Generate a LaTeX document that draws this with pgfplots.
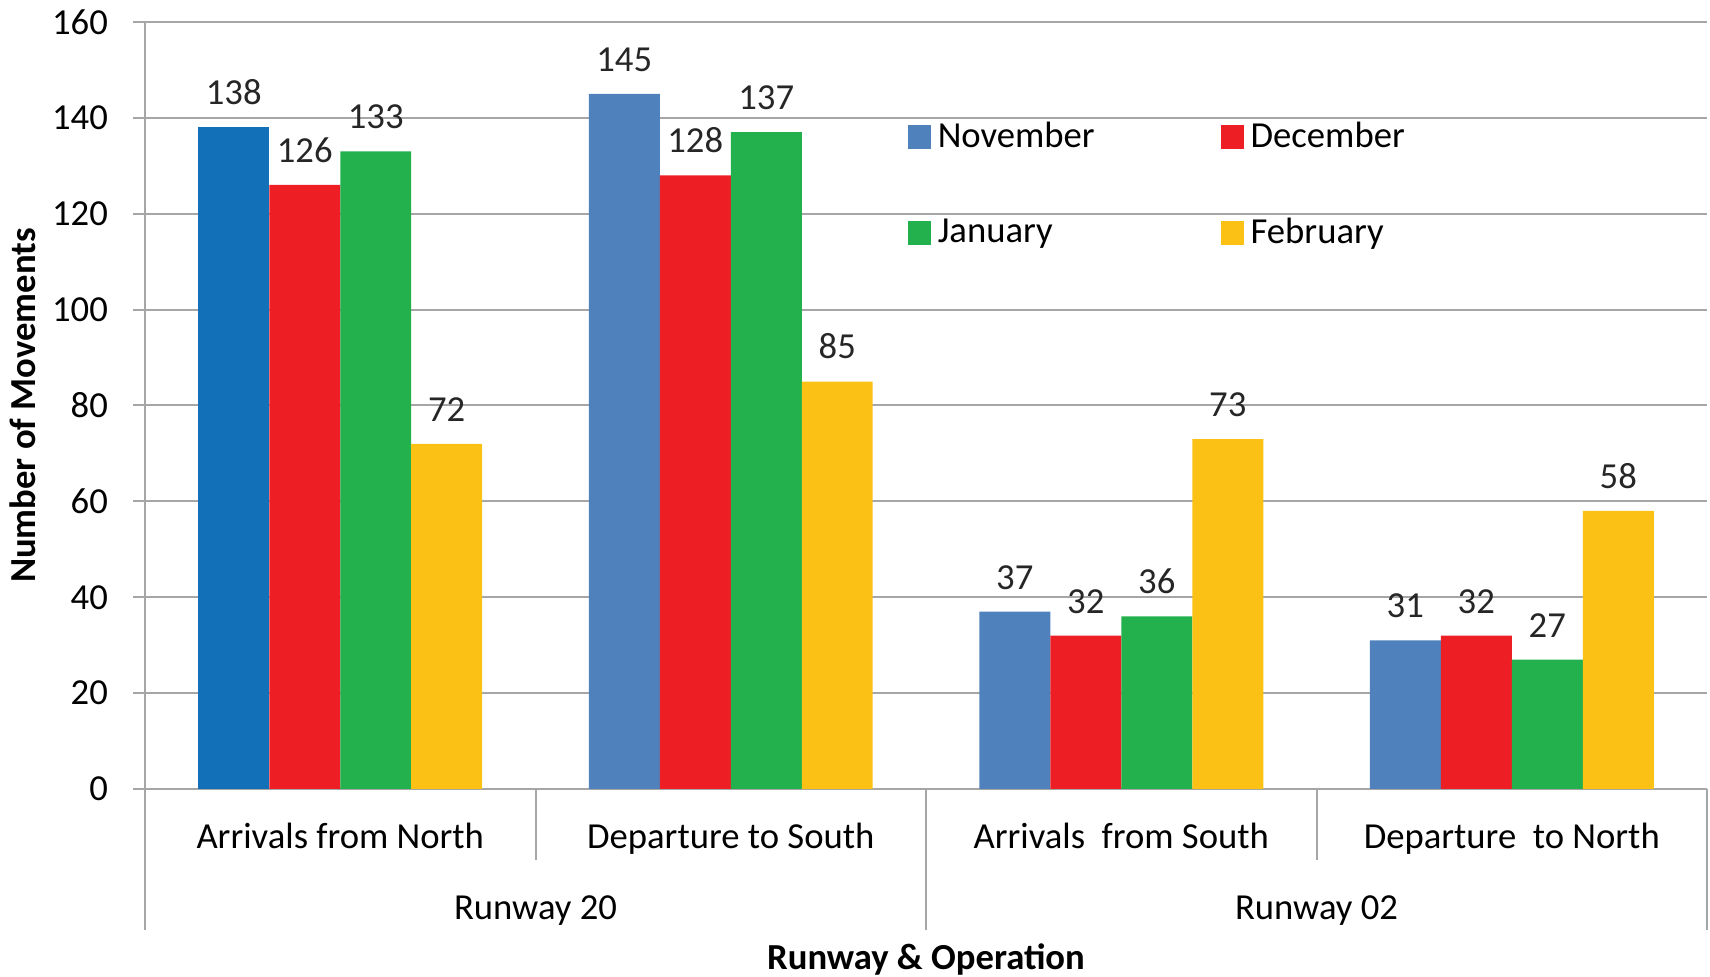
\documentclass[border=0pt]{standalone}
\usepackage{fontspec}
\setmainfont{Carlito}
\usepackage{pgfplots}
\pgfplotsset{compat=1.18}

\definecolor{nov}{HTML}{4F81BD}
\definecolor{novdark}{HTML}{1170B8}
\definecolor{dec}{HTML}{ED1F24}
\definecolor{jan}{HTML}{22B14C}
\definecolor{feb}{HTML}{FBC115}
\definecolor{gridgray}{HTML}{A6A6A6}

\begin{document}
\begin{tikzpicture}
\begin{axis}[
  scale only axis,
  width=468.6pt, height=230.1pt,
  ybar, bar width=0.1818,
  xmin=-0.5, xmax=3.5,
  ymin=0, ymax=160,
  ytick distance=20,
  xtick={0,1,2,3},
  xticklabels={Arrivals from North, Departure to South, Arrivals\ \ from South, Departure\ \ to North},
  major x tick style={draw=none},
  x tick label style={anchor=base, yshift=-14.3pt},
  y tick label style={xshift=-4pt},
  axis x line=bottom, axis y line=left,
  axis line style={-, draw=gridgray, line width=0.7pt},
  ymajorgrids, grid style={gridgray, line width=0.6pt},
  y tick style={gridgray, line width=0.6pt},
  tick align=outside, major tick length=3.6pt,
  font=\fontsize{11}{13}\selectfont,
  /pgf/number format/assume math mode=true,
  nodes near coords,
  every node near coord/.append style={font=\fontsize{11}{13}\selectfont, text=black!85, inner sep=2pt, yshift=4.5pt},
  xlabel={\bfseries Runway \& Operation},
  xlabel style={at={([yshift=-54.2pt]axis description cs:0.5,0)}, anchor=base},
  ylabel={\bfseries Number of Movements},
  ylabel style={at={([xshift=-32.9pt]axis description cs:0,0.5)}, anchor=base},
  legend columns=2,
  legend cell align=left,
  legend style={at={(0.4815,0.888)}, anchor=north west, draw=none, fill=none,
    font=\fontsize{11}{13}\selectfont, row sep=15.6pt,
    /tikz/every even column/.append style={column sep=35.8pt}},
  legend image code/.code={\fill[#1] (0pt,-3.5pt) rectangle (7pt,3.5pt);},
  clip=false,
]
\addplot[fill=nov, draw=none, bar shift=-0.2727] coordinates {(1,145) (2,37) (3,31)};
\addlegendentry{November}
\addplot[fill=novdark, draw=none, bar shift=-0.2727, forget plot] coordinates {(0,138)};
\addplot[fill=dec, draw=none, bar shift=-0.0909] coordinates {(0,126) (1,128) (2,32) (3,32)};
\addlegendentry{December}
\addplot[fill=jan, draw=none, bar shift=0.0909] coordinates {(0,133) (1,137) (2,36) (3,27)};
\addlegendentry{January}
\addplot[fill=feb, draw=none, bar shift=0.2727] coordinates {(0,72) (1,85) (2,73) (3,58)};
\addlegendentry{February}

% category separators below the axis
\draw[gridgray, line width=0.6pt] (axis cs:-0.5,0) -- ++(0pt,-42.3pt);
\draw[gridgray, line width=0.6pt] (axis cs:0.5,0) -- ++(0pt,-21.3pt);
\draw[gridgray, line width=0.6pt] (axis cs:1.5,0) -- ++(0pt,-42.3pt);
\draw[gridgray, line width=0.6pt] (axis cs:2.5,0) -- ++(0pt,-21.3pt);
\draw[gridgray, line width=0.6pt] (axis cs:3.5,0) -- ++(0pt,-42.3pt);
\node[anchor=base] at ([yshift=-39.2pt]axis cs:0.5,0) {Runway 20};
\node[anchor=base] at ([yshift=-39.2pt]axis cs:2.5,0) {Runway 02};
\end{axis}
\pgfresetboundingbox
\path ([shift={(-43.5pt,-56.4pt)}]current axis.south west) rectangle ([shift={(0.9pt,6.6pt)}]current axis.north east);
\end{tikzpicture}
\end{document}
